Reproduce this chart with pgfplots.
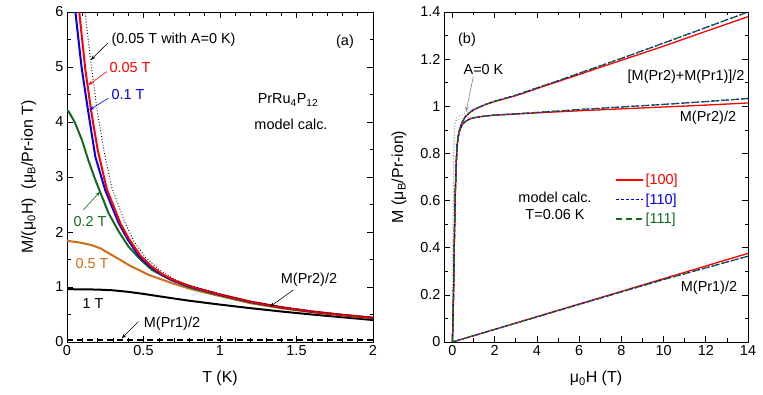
\documentclass[border=0pt]{standalone}
\usepackage{fontspec}
\setmainfont{Liberation Sans}
\usepackage{pgfplots}
\pgfplotsset{compat=1.18}
\usetikzlibrary{arrows.meta}
\definecolor{dgreen}{RGB}{20,105,30}
\definecolor{orng}{RGB}{205,110,25}
\definecolor{myred}{RGB}{255,0,0}
\definecolor{myblue}{RGB}{0,0,235}
\newcommand{\fs}{\fontsize{14.5}{17}\selectfont}
\begin{document}
\begin{tikzpicture}[x=1bp,y=1bp]
\path[use as bounding box] (0bp,0bp) rectangle (763bp,395bp);
\pgfplotsset{
  every axis/.append style={
    scale only axis,
    axis line style={line width=0.8bp},
    tick style={line width=0.6bp, black},
    major tick length=6bp, minor tick length=3.5bp,
    tick align=inside,
    ticklabel style={font=\fs},
    label style={font=\fontsize{16}{19}\selectfont},
    /pgf/number format/assume math mode=true,
  }
}
% ---------------- panel (a)
\begin{axis}[at={(67bp,53bp)}, anchor=south west, width=306bp, height=330bp,
  xmin=0, xmax=2, ymin=0, ymax=6,
  xtick={0,0.5,1,1.5,2}, minor x tick num=4,
  ytick={0,1,2,3,4,5,6}, minor y tick num=1,
  xlabel={T (K)},
  ylabel={M/(μ\textsubscript{0}H)\ \ (μ\textsubscript{B}/Pr-ion T)},
  xlabel style={at={(axis description cs:0.5,-0.11)}, anchor=center},
  ylabel style={at={(axis description cs:-0.125,0.5)}, anchor=center},
]
\addplot[black, line width=1.8bp, dash pattern=on 6bp off 4bp] coordinates {(0,0.035) (2,0.035)};
\addplot[black, line width=2bp] coordinates {
(0,0.96) (0.1,0.958) (0.2,0.953) (0.3,0.94) (0.4,0.912) (0.5,0.875) (0.6,0.832)
(0.8,0.75) (1.0,0.68) (1.2,0.615) (1.4,0.555) (1.6,0.5) (1.8,0.45) (2,0.40)};
\addplot[orng, line width=2bp] coordinates {
(0,1.84) (0.08,1.81) (0.163,1.76) (0.22,1.7) (0.294,1.58) (0.35,1.49) (0.403,1.4)
(0.534,1.22) (0.686,1.07) (0.8,0.97) (0.9,0.9) (1.0,0.835) (1.2,0.705) (1.4,0.615)
(1.6,0.54) (1.8,0.48) (2,0.43)};
\addplot[dgreen, line width=2bp] coordinates {
(0,4.21) (0.011,4.19) (0.05,4.0) (0.098,3.67) (0.14,3.3) (0.185,2.95) (0.272,2.34)
(0.34,2.0) (0.403,1.73) (0.48,1.5) (0.556,1.31) (0.67,1.14) (0.795,1.0) (1.0,0.85)
(1.2,0.72) (1.4,0.625) (1.6,0.55) (1.8,0.49) (2,0.435)};
\addplot[myblue, line width=2bp] coordinates {
(0.047,6.3) (0.055,6.0) (0.095,5.0) (0.137,4.22) (0.185,3.37) (0.25,2.76)
(0.338,2.16) (0.4,1.85) (0.468,1.57) (0.54,1.38) (0.62,1.22) (0.7,1.11) (0.8,1.01)
(1.0,0.86) (1.2,0.73) (1.4,0.63) (1.6,0.553) (1.8,0.492) (2,0.44)};
\addplot[myred, line width=2bp] coordinates {
(0.07,6.3) (0.08,6.0) (0.12,4.95) (0.158,4.2) (0.2,3.5) (0.26,2.78) (0.35,2.15)
(0.41,1.85) (0.48,1.57) (0.55,1.38) (0.63,1.22) (0.71,1.11) (0.81,1.01)
(1.0,0.865) (1.2,0.733) (1.4,0.633) (1.6,0.555) (1.8,0.494) (2,0.442)};
\addplot[black, dotted, line width=0.9bp] coordinates {
(0.11,6.3) (0.118,6.0) (0.155,5.1) (0.2,4.15) (0.25,3.35) (0.294,2.8) (0.38,2.16)
(0.44,1.82) (0.51,1.55) (0.6,1.32) (0.7,1.14) (0.8,1.03) (1.0,0.87) (1.2,0.74)
(1.4,0.64) (1.6,0.56) (1.8,0.5) (2.0,0.445)};
\end{axis}
% ---------------- panel (b)
\begin{axis}[at={(444bp,53bp)}, anchor=south west, width=304bp, height=330bp,
  xmin=-0.4, xmax=14, ymin=0, ymax=1.4,
  xtick={0,2,4,6,8,10,12,14}, minor x tick num=1,
  ytick={0,0.2,0.4,0.6,0.8,1,1.2,1.4}, minor y tick num=1,
  yticklabel style={/pgf/number format/fixed},
  xlabel={μ\textsubscript{0}H (T)},
  ylabel={M (μ\textsubscript{B}/Pr-ion)},
  xlabel style={at={(axis description cs:0.5,-0.11)}, anchor=center},
  ylabel style={at={(axis description cs:-0.148,0.5)}, anchor=center},
  legend style={at={(axis cs:7.55,0.73)}, anchor=north west, draw=none, fill=none,
    font=\fs, row sep=3.5bp, cells={anchor=west}},
  legend image code/.code={\draw[#1, line width=1.6bp] (0bp,0bp) -- (27bp,0bp);},
]
% A=0 K
\addplot[gray!70, dotted, line width=1bp, forget plot] coordinates {
(0,0) (0.03,0.45) (0.06,0.8) (0.1,0.92) (0.15,0.945) (0.25,0.955) (0.4,0.963)
(0.6,0.972) (0.9,0.985) (1.3,1.0)};
\addplot[gray!70, dotted, line width=1bp, forget plot] coordinates {
(0,0) (0.03,0.45) (0.06,0.8) (0.1,0.915) (0.15,0.937) (0.25,0.944) (0.5,0.949)
(0.8,0.952) (1.2,0.956)};
% [100]
\addplot[myred, line width=1.3bp] coordinates {
(0,0) (0.05,0.2) (0.1,0.48) (0.14,0.65) (0.18,0.76) (0.22,0.83) (0.27,0.87)
(0.35,0.9) (0.45,0.92) (0.6,0.935) (0.8,0.945) (1,0.951) (1.5,0.958) (2,0.962)
(3,0.967) (4,0.972) (6,0.981) (8,0.989) (10,0.997) (12,1.005) (14,1.014)};
\addlegendentry{\textcolor{myred}{[100]}}
\addplot[myred, line width=1.3bp, forget plot] coordinates {
(0,0) (0.05,0.2) (0.1,0.48) (0.14,0.65) (0.18,0.76) (0.22,0.83) (0.27,0.872)
(0.35,0.905) (0.45,0.93) (0.6,0.955) (0.8,0.972) (1,0.985) (1.5,1.005) (2,1.02)
(3,1.045) (4,1.075) (5,1.105) (6,1.135) (8,1.195) (10,1.255) (12,1.318) (14,1.38)};
\addplot[myred, line width=1.3bp, forget plot] coordinates {(0,0) (7,0.188) (14,0.376)};
% [110]
\addplot[myblue, line width=1.2bp, dash pattern=on 3bp off 2bp] coordinates {
(0,0) (0.05,0.2) (0.1,0.48) (0.14,0.65) (0.18,0.76) (0.22,0.83) (0.27,0.87)
(0.35,0.9) (0.45,0.92) (0.6,0.935) (0.8,0.945) (1,0.951) (1.5,0.958) (2,0.963)
(3,0.968) (4,0.974) (6,0.986) (8,0.997) (10,1.008) (12,1.02) (14,1.033)};
\addlegendentry{\textcolor{myblue}{[110]}}
\addplot[myblue, line width=1.2bp, dash pattern=on 3bp off 2bp, forget plot] coordinates {
(0,0) (0.05,0.2) (0.1,0.48) (0.14,0.65) (0.18,0.76) (0.22,0.83) (0.27,0.872)
(0.35,0.905) (0.45,0.93) (0.6,0.955) (0.8,0.972) (1,0.985) (1.5,1.006) (2,1.022)
(3,1.047) (4,1.078) (5,1.108) (6,1.14) (8,1.203) (10,1.268) (12,1.334) (14,1.40)};
\addplot[myblue, line width=1.2bp, dash pattern=on 3bp off 2bp, forget plot] coordinates {
(0,0) (7,0.186) (10,0.265) (14,0.364)};
% [111]
\addplot[dgreen, line width=1.2bp, dash pattern=on 6bp off 4bp] coordinates {
(0,0) (0.05,0.2) (0.1,0.48) (0.14,0.65) (0.18,0.76) (0.22,0.83) (0.27,0.87)
(0.35,0.9) (0.45,0.92) (0.6,0.935) (0.8,0.945) (1,0.951) (1.5,0.958) (2,0.963)
(3,0.968) (4,0.974) (6,0.986) (8,0.997) (10,1.008) (12,1.02) (14,1.033)};
\addlegendentry{\textcolor{dgreen}{[111]}}
\addplot[dgreen, line width=1.2bp, dash pattern=on 6bp off 4bp, forget plot] coordinates {
(0,0) (0.05,0.2) (0.1,0.48) (0.14,0.65) (0.18,0.76) (0.22,0.83) (0.27,0.872)
(0.35,0.905) (0.45,0.93) (0.6,0.955) (0.8,0.972) (1,0.985) (1.5,1.006) (2,1.022)
(3,1.047) (4,1.078) (5,1.108) (6,1.14) (8,1.203) (10,1.268) (12,1.334) (14,1.40)};
\addplot[dgreen, line width=1.2bp, dash pattern=on 6bp off 4bp, forget plot] coordinates {
(0,0) (7,0.186) (10,0.265) (14,0.364)};
\end{axis}
% ---------------- annotations (a)
\tikzset{ar/.style={-{Stealth[length=5bp,width=3.5bp]}, line width=0.6bp}}
\node[anchor=west, font=\fs] at (108bp,355bp) {(0.05 T with A=0 K)};
\draw[ar] (108bp,352bp) -- (90.7bp,335bp);
\node[anchor=west, font=\fs, text=myred] at (106bp,327bp) {0.05 T};
\draw[ar, myred] (106.7bp,323.3bp) -- (88.3bp,310bp);
\node[anchor=west, font=\fs, text=myblue] at (108bp,300bp) {0.1 T};
\draw[ar, myblue] (108.3bp,296.7bp) -- (89.3bp,285bp);
\node[font=\fs] at (345bp,353bp) {(a)};
\node[font=\fs] at (288bp,295bp) {PrRu\textsubscript{4}P\textsubscript{12}};
\node[font=\fs] at (291bp,271bp) {model calc.};
\node[font=\fs, text=dgreen] at (90bp,173.3bp) {0.2 T};
\draw[ar, dgreen] (83.3bp,185bp) -- (100bp,203.3bp);
\node[font=\fs, text=orng] at (92bp,131.7bp) {0.5 T};
\node[font=\fs] at (93bp,91.7bp) {1 T};
\node[font=\fs] at (172bp,71.7bp) {M(Pr1)/2};
\draw[ar] (138.3bp,73.3bp) -- (121.7bp,56.7bp);
\node[font=\fs] at (309bp,115.7bp) {M(Pr2)/2};
\draw[ar] (293.3bp,105bp) -- (270bp,88.3bp);
% ---------------- annotations (b)
\node[font=\fs] at (467bp,355bp) {(b)};
\node[font=\fs] at (483.5bp,325bp) {A=0 K};
\draw[ar, gray] (473.3bp,318.3bp) -- (466bp,283.3bp);
\node[font=\fs, anchor=east] at (748bp,318.3bp) {[M(Pr2)+M(Pr1)]/2};
\node[font=\fs] at (708bp,277bp) {M(Pr2)/2};
\node[font=\fs] at (709bp,107bp) {M(Pr1)/2};
\node[font=\fs] at (555bp,198bp) {model calc.};
\node[font=\fs] at (555bp,180bp) {T=0.06 K};
\end{tikzpicture}
\end{document}
